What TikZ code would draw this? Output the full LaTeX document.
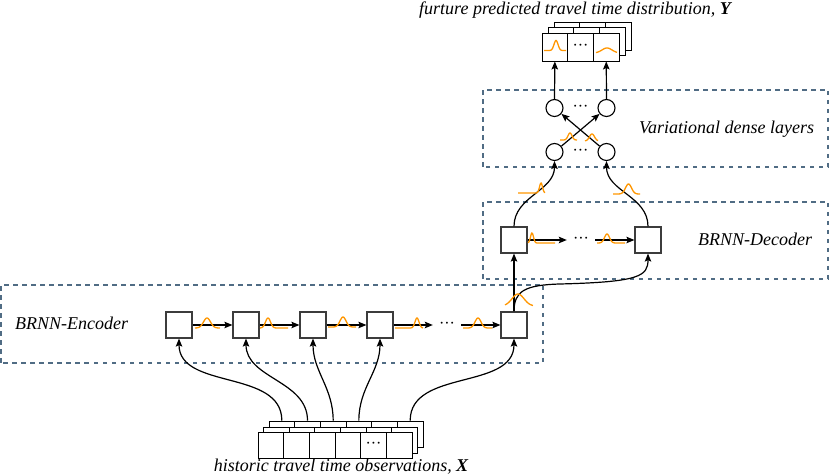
\documentclass[tikz,border=0pt]{standalone}
\usepackage{fontspec}
\setmainfont{Liberation Serif}
\usetikzlibrary{arrows.meta}
\definecolor{boxgray}{RGB}{60,60,60}
\definecolor{gorange}{RGB}{255,150,0}
\definecolor{dashblue}{RGB}{80,108,132}
\newcommand{\gss}[6]{\draw[gaus] plot[domain=#1:#2, samples=50, smooth] (\x, {#3 + #5*exp(max(-20,-((\x-#4)^2)/(2*#6*#6)))});}
\newcommand{\mydots}{\textperiodcentered\textperiodcentered\textperiodcentered}
\begin{document}
\begin{tikzpicture}[x=1pt,y=1pt,
  box/.style={draw=boxgray, line width=1.2pt, fill=white, minimum width=26pt, minimum height=26pt, inner sep=0pt},
  circ/.style={draw=black, line width=1.1pt, circle, minimum size=17pt, inner sep=0pt, fill=white},
  cell/.style={draw=black, line width=0.9pt, fill=white, minimum width=25.67pt, minimum height=26pt, inner sep=0pt},
  tcell/.style={draw=black, line width=0.9pt, fill=white, minimum width=25.7pt, minimum height=28pt, inner sep=0pt},
  arr/.style={-{Stealth[length=8pt,width=6.5pt,inset=1.5pt]}, line width=1.2pt, black},
  gaus/.style={draw=gorange, line width=1.3pt},
  region/.style={draw=dashblue, line width=1.2pt, dash pattern=on 4.5pt off 4.5pt},
  lab/.style={font=\fontsize{18}{21}\selectfont\itshape, inner sep=0pt},
  dotsn/.style={inner sep=0pt, minimum width=28pt, font=\fontsize{16}{18}\selectfont}]

\useasboundingbox (0,0) rectangle (830,476);

% dashed regions
\draw[region] (483,309) rectangle (828,386);
\draw[region] (483,197) rectangle (828,274);
\draw[region] (1,113) rectangle (543,191);

% labels
\node[lab, anchor=base west] (lvar) at (639,342) {Variational dense layers};
\node[lab, anchor=base west] (ldec) at (698,230) {BRNN-Decoder};
\node[lab, anchor=base west] (lenc) at (15,146) {BRNN-Encoder};
\node[lab, anchor=base] (ltop) at (575,461) {furture predicted travel time distribution, \textbf{Y}};
\node[lab, anchor=base] (lbot) at (341,4) {historic travel time observations, \textbf{X}};

% encoder boxes
\node[box] (e1) at (179,151) {};
\node[box] (e2) at (246,151) {};
\node[box] (e3) at (313,151) {};
\node[box] (e4) at (380,151) {};
\node[dotsn] (edots) at (447,151) {\mydots};
\node[box] (e5) at (514,151) {};

% decoder boxes
\node[box] (d1) at (514,236) {};
\node[dotsn] (ddots) at (581,236) {\mydots};
\node[box] (d2) at (648,236) {};

% circles
\node[circ] (c1) at (554.5,324) {};
\node[circ] (c2) at (606.5,324) {};
\node[circ] (c3) at (554.5,368) {};
\node[circ] (c4) at (606.5,368) {};
\node[dotsn] (cd1) at (580.5,324) {\mydots};
\node[dotsn] (cd2) at (580.5,368) {\mydots};

% bottom stacked cells
\foreach \L/\dx/\dy in {3/11/11, 2/5.5/5, 1/0/0} {
  \foreach \i in {1,...,6} {
    \node[cell] (b\L-\i) at ({270.835+(\i-1)*25.67+\dx}, {31+\dy}) {};
  }
}
\node[dotsn] (bdots) at (b1-5) {\mydots};

% top stacked cells
\foreach \L/\dx/\dy in {3/12/11, 2/6/5.5, 1/0/0} {
  \foreach \i in {1,...,3} {
    \node[tcell] (t\L-\i) at ({554.85+(\i-1)*25.7+\dx}, {429+\dy}) {};
  }
}
\node[dotsn] (tdots) at (t1-2) {\mydots};

% encoder chain
\draw[arr] (e1) -- (e2);
\draw[arr] (e2) -- (e3);
\draw[arr] (e3) -- (e4);
\draw[arr] (e4) -- (edots);
\draw[arr] (edots) -- (e5);

% decoder chain
\draw[arr] (d1) -- (ddots);
\draw[arr] (ddots) -- (d2);

% inputs from observations
\draw[arr] (b3-1.north) to[out=90,in=-90] (e1.south);
\draw[arr] (b3-2.north) to[out=90,in=-90] (e2.south);
\draw[arr] (b3-3.north) to[out=90,in=-90] (e3.south);
\draw[arr] (b3-4.north) to[out=90,in=-90] (e4.south);
\draw[arr] (b3-6.north) to[out=90,in=-90] (e5.south);

% encoder to decoder
\draw[arr] (e5.north) -- (d1.south);
\draw[arr] (e5.north) .. controls (514,185) and (525,191) .. (560,192) .. controls (640,194) and (648,200) .. (d2.south);

% decoder to dense
\draw[arr] (d1.north) to[out=90,in=-90] (c1.south);
\draw[arr] (d2.north) to[out=90,in=-90] (c2.south);

% dense crossing
\draw[arr] (c1) -- (c4);
\draw[arr] (c2) -- (c3);

% dense to output
\draw[arr] (c3.north) -- (t1-1.south);
\draw[arr] (c4.north) -- (t1-3.south);

% gaussians: encoder
\gss{195}{220}{148}{207}{10}{3.5}
\gss{260}{288}{148}{268}{10}{2.5}
\gss{328}{356}{149}{343}{10}{3}
\gss{395}{423}{148}{417}{10}{2}
\gss{463}{492}{148}{478}{10}{3}
\gss{505}{533}{170}{518}{12}{6}
% decoder
\gss{528}{555}{233}{532}{10}{1.5}
\gss{597}{625}{233}{607}{9}{2.5}
\gss{518}{545}{283}{541}{10}{1.5}
\gss{613}{640}{282}{628.5}{10}{3}
% dense
\gss{560}{577}{336}{570}{7}{2}
\gss{585}{598}{335}{592}{7}{2.5}
% output
\gss{544}{566}{425.5}{556}{10}{2}
\gss{596}{617}{423}{607}{5}{5}

\end{tikzpicture}
\end{document}
